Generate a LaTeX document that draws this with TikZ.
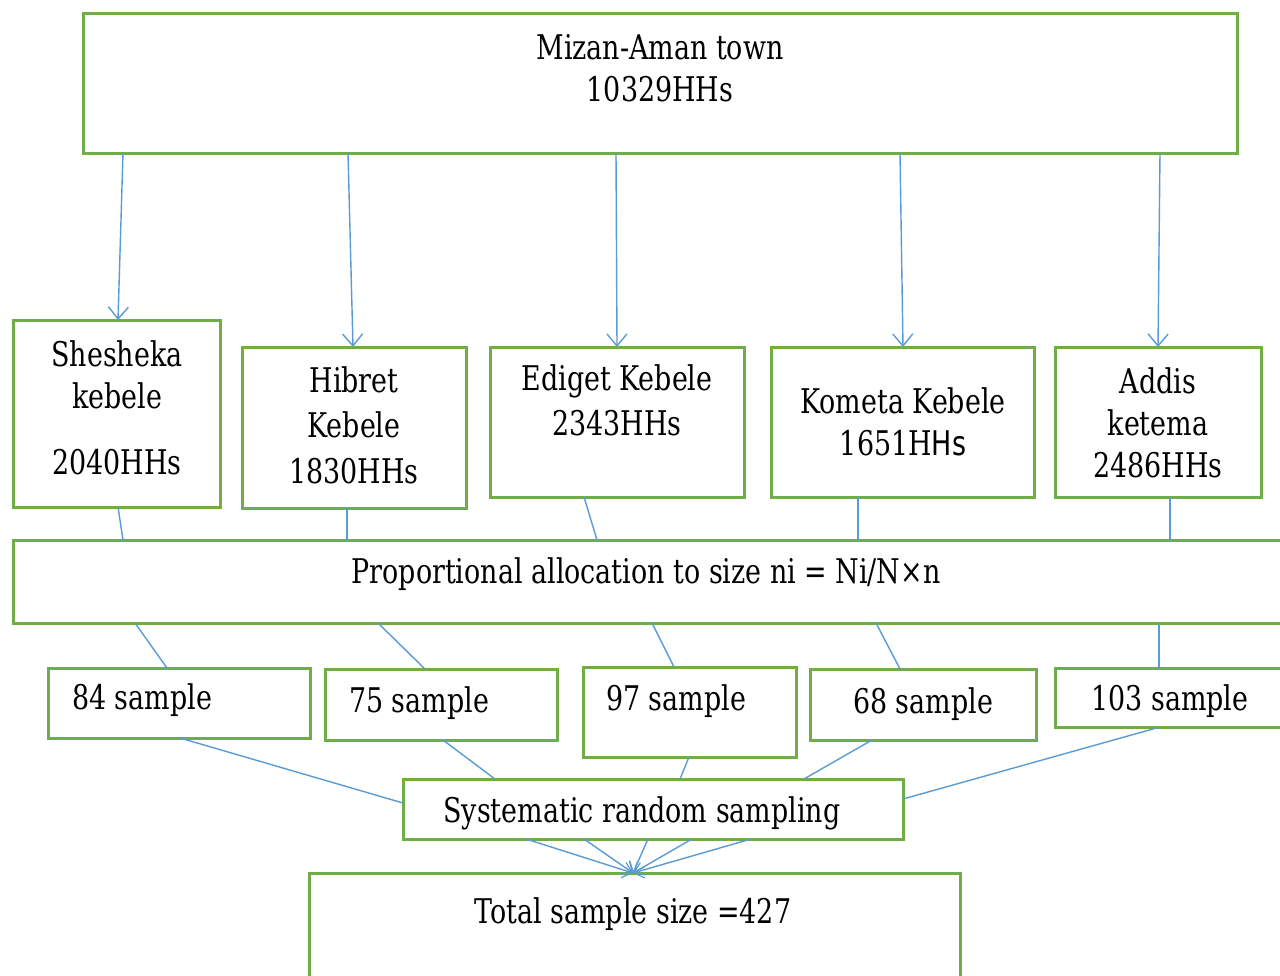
\documentclass[tikz,border=0pt]{standalone}
\usepackage{fontspec}
\setmainfont[FakeStretch=0.88]{DejaVu Serif Condensed}
\newfontfamily\hsans[FakeStretch=0.88]{DejaVu Sans Condensed}
\usetikzlibrary{arrows.meta}
\definecolor{boxgreen}{RGB}{112,173,71}
\definecolor{lineblue}{RGB}{91,155,213}
\begin{document}
\begin{tikzpicture}[x=1pt,y=-1pt,
  box/.style={draw=boxgreen,line width=3pt,fill=none,inner sep=0pt,outer sep=0pt,rectangle},
  txt/.style={inner sep=0pt,font=\fontsize{34}{42}\selectfont,align=center,yshift=-2pt},
  conn/.style={draw=lineblue,line width=1.4pt},
  arr/.style={conn,-{Straight Barb[length=12pt,width=20pt,line width=1.4pt]}},
  arrs/.style={conn,-{Straight Barb[length=9pt,width=16pt,line width=1.2pt]}}]
\useasboundingbox (0,0) rectangle (1280,975);
\fill[white] (0,0) rectangle (1280,975);
% boxes
\node[box,minimum width=1154pt,minimum height=140pt] (top) at (660,83) {};
\node[box,minimum width=207pt,minimum height=187pt] (she) at (116.5,413.5) {};
\node[box,minimum width=224pt,minimum height=161pt] (hib) at (354,427.5) {};
\node[box,minimum width=254pt,minimum height=150pt] (edi) at (617,422) {};
\node[box,minimum width=263pt,minimum height=150pt] (kom) at (902.5,422) {};
\node[box,minimum width=206pt,minimum height=150pt] (add) at (1158,422) {};
\node[box,minimum width=1277pt,minimum height=83pt] (prop) at (651.5,581.5) {};
\node[box,minimum width=262pt,minimum height=70pt] (s84) at (179,703) {};
\node[box,minimum width=232pt,minimum height=71pt] (s75) at (441,704.5) {};
\node[box,minimum width=213pt,minimum height=90pt] (s97) at (689.5,712) {};
\node[box,minimum width=226pt,minimum height=71pt] (s68) at (923,704.5) {};
\node[box,minimum width=235pt,minimum height=59pt] (s103) at (1172.5,697.5) {};
\node[box,minimum width=500pt,minimum height=60pt] (sys) at (653,809) {};
\node[box,minimum width=651pt,minimum height=112pt] (tot) at (634.5,929) {};
% texts
\node[txt] (ttop1) at (660,45) {Mizan-Aman town};
\node[txt] (ttop2) at (660,87) {10329HHs};
\node[txt] (tshe1) at (117,352) {Shesheka};
\node[txt] (tshe2) at (117,394) {kebele};
\node[txt] (tshe3) at (117,460) {2040HHs};
\node[txt] (thib1) at (354,378) {Hibret};
\node[txt] (thib2) at (354,423) {Kebele};
\node[txt] (thib3) at (354,469) {1830HHs};
\node[txt] (tedi1) at (617,379) {Ediget Kebele};
\node[txt] (tedi2) at (617,421) {2343HHs};
\node[txt] (tkom1) at (903,399) {Kometa Kebele};
\node[txt] (tkom2) at (903,441) {1651H{\hsans Hs}};
\node[txt] (tadd1) at (1158,379) {Addis};
\node[txt] (tadd2) at (1158,421) {ketema};
\node[txt] (tadd3) at (1158,463) {2486HHs};
\node[txt] (tprop) at (646,572) {Proportional allocation to size ni = Ni/N×n};
\node[txt,anchor=west] (t84) at (72,698) {84 sample};
\node[txt,anchor=west] (t75) at (349,701) {75 sample};
\node[txt,anchor=west] (t97) at (606,699) {97 sample};
\node[txt] (t68) at (923,702) {68 sample};
\node[txt] (t103) at (1170,699) {103 sample};
\node[txt] (tsys) at (642,811) {Systematic random sampling};
\node[txt] (ttot) at (633,912) {Total sample size =427};
% top arrows
\draw[arr] ([xshift=-537pt]top.south) -- ([xshift=1.5pt]she.north);
\draw[arr] ([xshift=-312pt]top.south) -- ([xshift=-1pt]hib.north);
\draw[arr] ([xshift=-44pt]top.south) -- (edi.north);
\draw[arr] ([xshift=240pt]top.south) -- ([xshift=0.5pt]kom.north);
\draw[arr] ([xshift=500pt]top.south) -- (add.north);
% kebeles to proportional
\draw[conn] ([xshift=1.5pt]she.south) -- ([xshift=-528.5pt]prop.north);
\draw[conn] ([xshift=-7pt]hib.south) -- ([xshift=-304.5pt]prop.north);
\draw[conn] ([xshift=-33pt]edi.south) -- ([xshift=-54.5pt]prop.north);
\draw[conn] ([xshift=-44.5pt]kom.south) -- ([xshift=206.5pt]prop.north);
\draw[conn] ([xshift=12pt]add.south) -- ([xshift=518.5pt]prop.north);
% proportional to samples
\draw[conn] ([xshift=-516.5pt]prop.south) -- ([xshift=-12pt]s84.north);
\draw[conn] ([xshift=-273.5pt]prop.south) -- ([xshift=-16pt]s75.north);
\draw[conn] ([xshift=0.5pt]prop.south) -- ([xshift=-15.5pt]s97.north);
\draw[conn] ([xshift=224.5pt]prop.south) -- ([xshift=-23pt]s68.north);
\draw[conn] ([xshift=507.5pt]prop.south) -- ([xshift=-13.5pt]s103.north);
% samples to systematic
\draw[conn] ([xshift=1pt]s84.south) -- ([yshift=6pt]sys.west);
\draw[conn] ([xshift=2pt]s75.south) -- ([xshift=-158pt]sys.north);
\draw[conn] ([xshift=-0.5pt]s97.south) -- ([xshift=27pt]sys.north);
\draw[conn] ([xshift=-51pt]s68.south) -- ([xshift=151pt]sys.north);
\draw[conn] ([xshift=-12.5pt]s103.south) -- ([yshift=10pt]sys.east);
% systematic to total
\draw[arrs] ([xshift=-127pt]sys.south) -- ([xshift=-1.5pt]tot.north);
\draw[arrs] ([xshift=-69pt]sys.south) -- ([xshift=-1.5pt]tot.north);
\draw[arrs] ([xshift=-5pt]sys.south) -- ([xshift=-1.5pt]tot.north);
\draw[arrs] ([xshift=39pt]sys.south) -- ([xshift=-1.5pt]tot.north);
\draw[arrs] ([xshift=98pt]sys.south) -- ([xshift=-1.5pt]tot.north);
\end{tikzpicture}
\end{document}
